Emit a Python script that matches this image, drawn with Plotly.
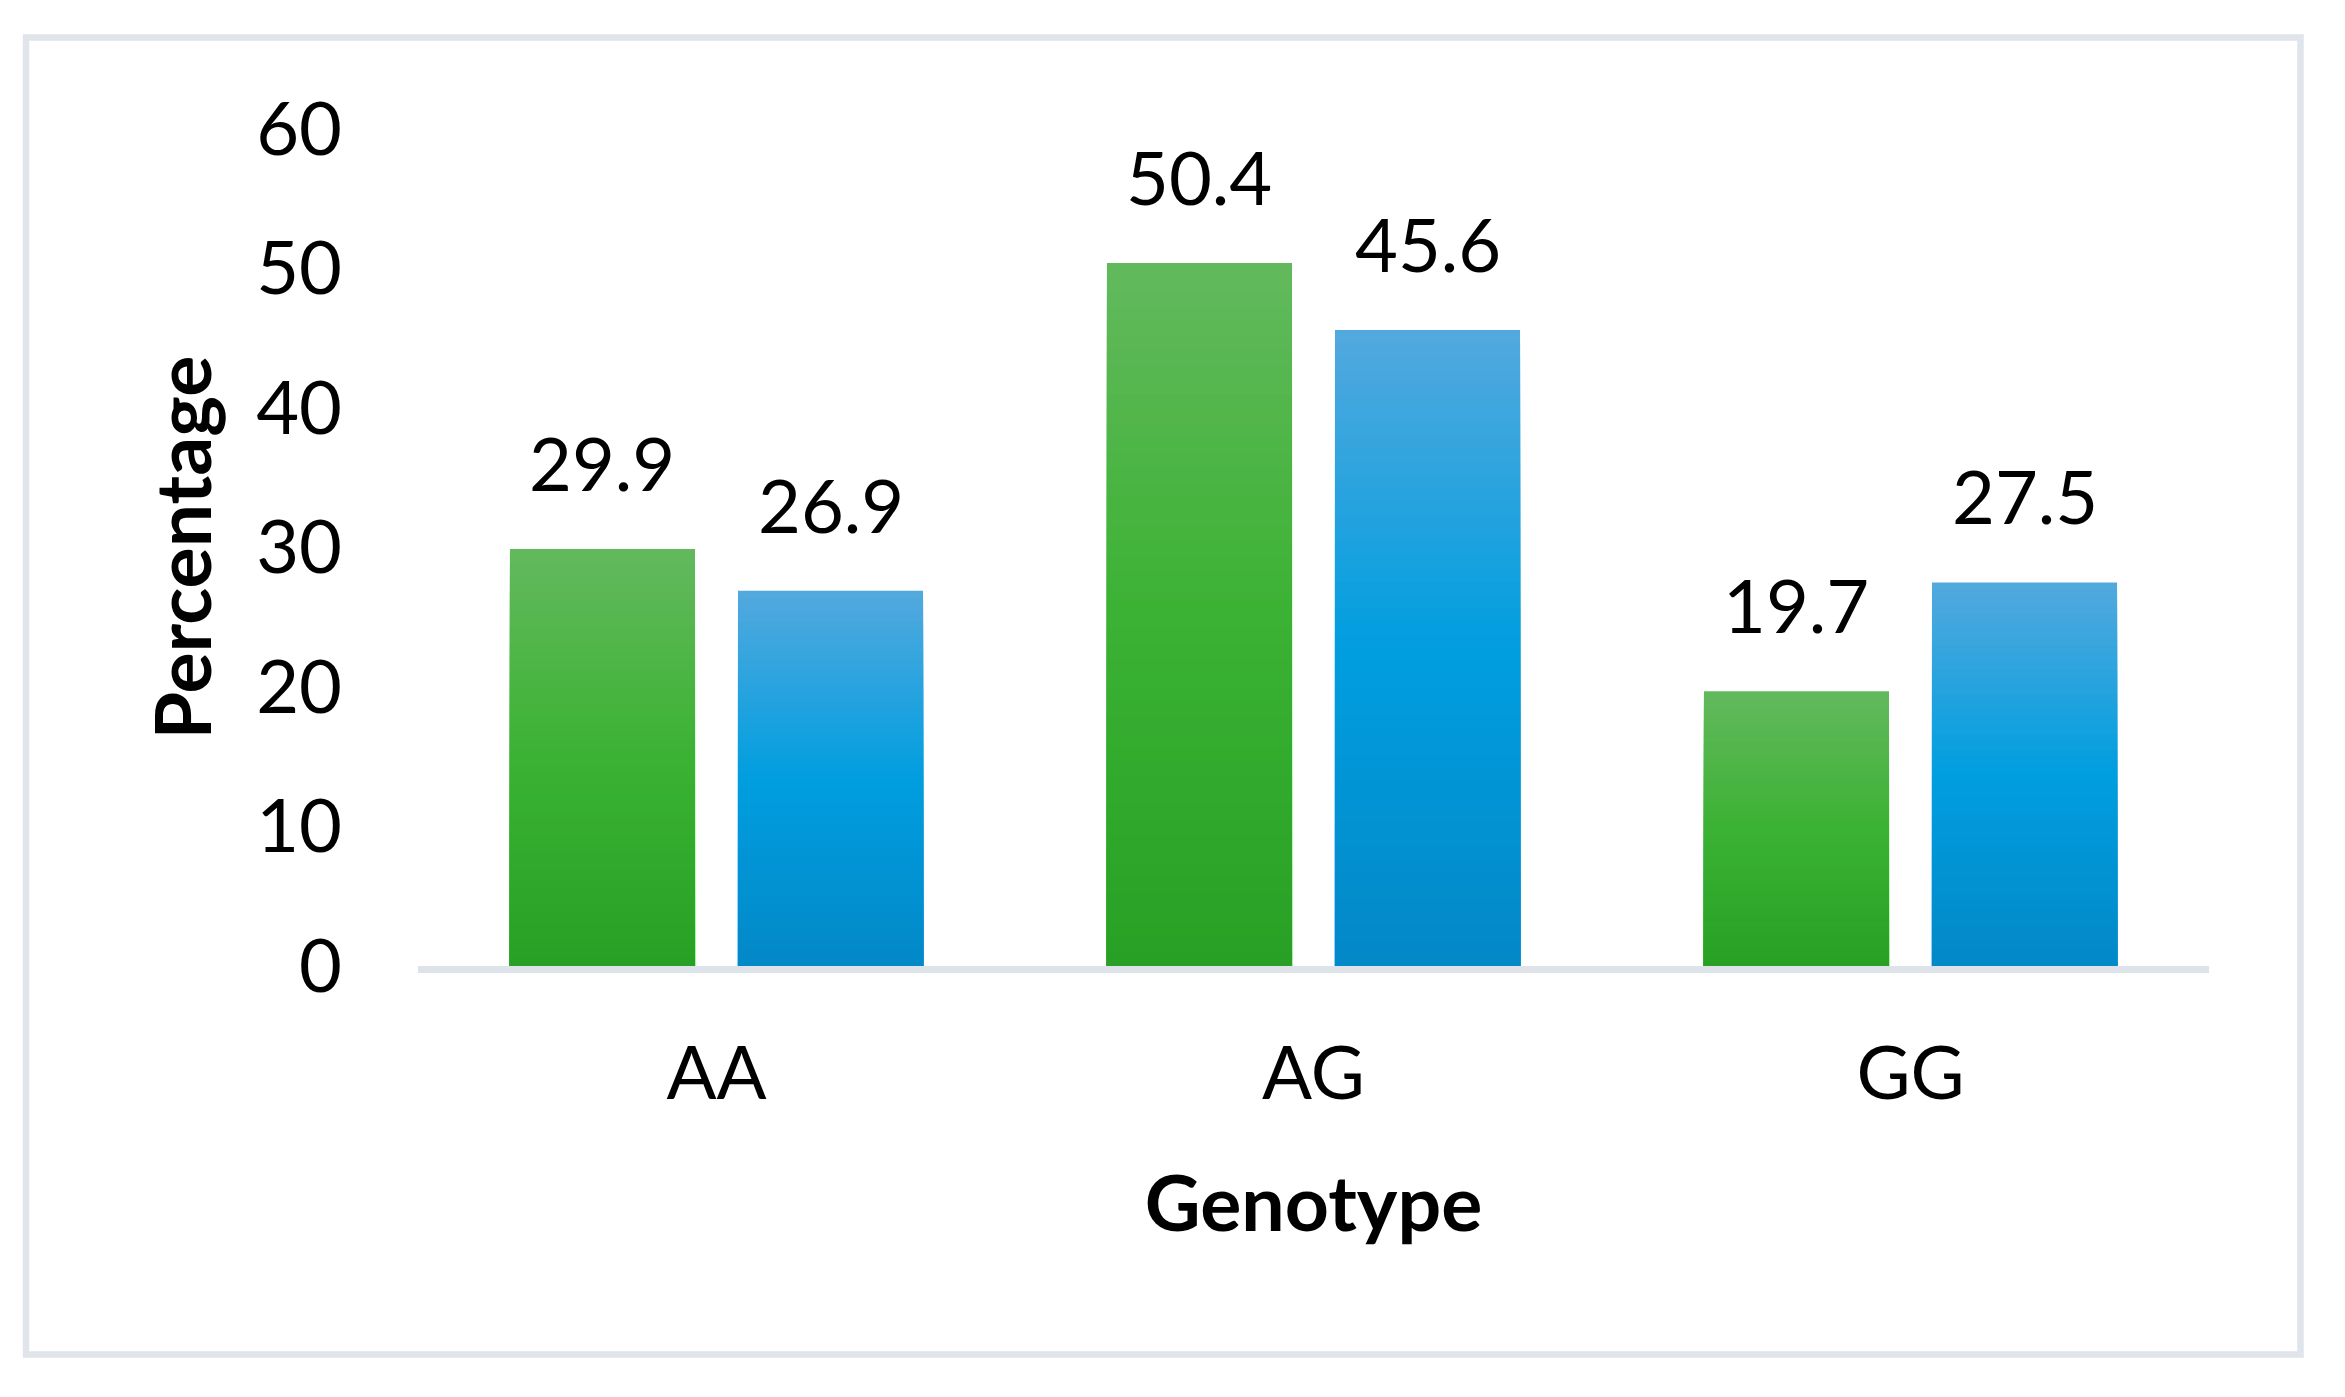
import plotly.graph_objects as go

categories = ["AA", "AG", "GG"]
series_green = [29.9, 50.4, 19.7]
series_blue = [26.9, 45.6, 27.5]
y_ticks = [0, 10, 20, 30, 40, 50, 60]

FONT = "Lato"
W, H = 2345, 1397
# the page has an 8px body margin, so figure coords = page coords - 8
L, R, T, B = 410, 144, 121, 439

BAR_W = 0.31
OFFS = {"green": -0.346, "blue": 0.036}
GRAD = {
    "green": [(0.0, (0x63, 0xb9, 0x5d)), (0.5, (0x3b, 0xb2, 0x33)), (1.0, (0x27, 0xa0, 0x25))],
    "blue": [(0.0, (0x53, 0xa9, 0xde)), (0.5, (0x00, 0x9e, 0xdf)), (1.0, (0x03, 0x88, 0xc8))],
}
NSEG = 48


def grad_color(stops, t):
    # t = 0 top of bar, 1 bottom of bar
    for (t0, c0), (t1, c1) in zip(stops[:-1], stops[1:]):
        if t0 <= t <= t1:
            f = (t - t0) / (t1 - t0) if t1 > t0 else 0
            c = [round(a + (b - a) * f) for a, b in zip(c0, c1)]
            return "rgb(%d,%d,%d)" % tuple(c)
    return "rgb(%d,%d,%d)" % stops[-1][1]


fig = go.Figure()
# each bar: the full data bar is drawn first in the top colour, then shorter
# overlays (fractions of the same value) paint the lower part progressively darker
for key, vals in [("green", series_green), ("blue", series_blue)]:
    for j in range(NSEG, 0, -1):
        frac = j / NSEG
        t = 1 - (j - 0.5) / NSEG
        fig.add_trace(go.Bar(
            x=categories,
            y=[v * frac for v in vals],
            offset=OFFS[key], width=BAR_W,
            marker=dict(color=grad_color(GRAD[key], t), line=dict(width=0)),
            showlegend=False, hoverinfo="skip",
        ))

# data labels above bars
for key, vals in [("green", series_green), ("blue", series_blue)]:
    for i, v in enumerate(vals):
        fig.add_annotation(x=i + OFFS[key] + BAR_W / 2, y=v, text=f"{v}",
                           showarrow=False, yshift=40, yanchor="bottom",
                           font=dict(family=FONT, size=74, color="#000000"))

pw = W - L - R
ph = H - T - B


def px_x(p):
    return (p - L) / pw


def px_y(p):
    return (H - B - p) / ph


fig.add_shape(type="rect", xref="paper", yref="paper",
              x0=px_x(18), x1=px_x(2292.5), y0=px_y(1346.5), y1=px_y(29.5),
              line=dict(color="#dfe5eb", width=6.5), fillcolor="rgba(0,0,0,0)",
              layer="below")

fig.update_layout(
    width=W, height=H,
    margin=dict(l=L, r=R, t=T, b=B, pad=0),
    paper_bgcolor="white", plot_bgcolor="white",
    barmode="overlay",
    font=dict(family=FONT, color="#000000"),
    xaxis=dict(
        type="category", range=[-0.5, 2.5],
        showgrid=False, zeroline=False,
        showline=True, linecolor="#dde3e9", linewidth=7,
        ticks="", ticklabelstandoff=37,
        tickfont=dict(family=FONT, size=74, color="#000000"),
        title=dict(text="<b>Genotype</b>", font=dict(family=FONT, size=77, color="#000000"), standoff=66),
    ),
    yaxis=dict(
        range=[0, 60], tickvals=y_ticks, showgrid=False, zeroline=False,
        showline=False, ticks="", ticklabelstandoff=75,
        tickfont=dict(family=FONT, size=74, color="#000000"),
        title=dict(text="<b>Percentage</b>", font=dict(family=FONT, size=77, color="#000000"), standoff=19),
    ),
)

fig.write_html("out.html")
